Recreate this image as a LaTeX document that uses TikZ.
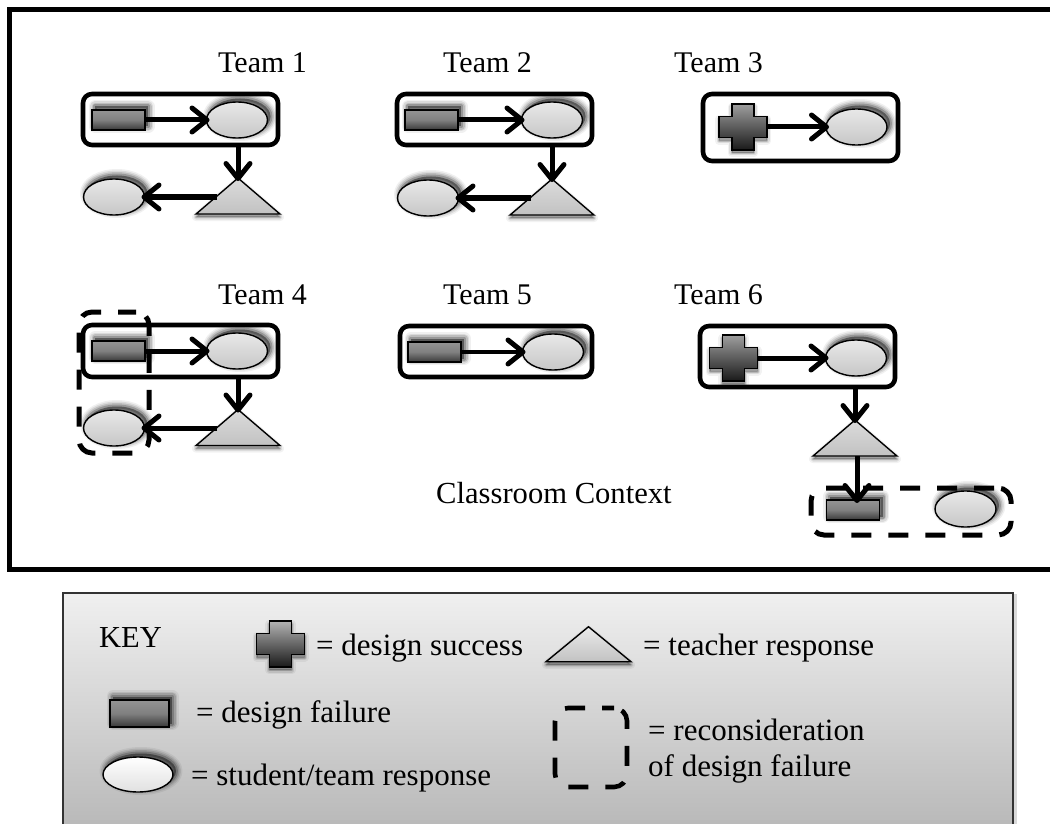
\documentclass[tikz,border=0pt]{standalone}
\usepackage{fontspec}
\setmainfont{Liberation Serif}
\usetikzlibrary{arrows.meta,shapes.geometric,shadings}
\makeatletter
\pgfdeclareshape{plusshape}{
  \inheritsavedanchors[from=rectangle]
  \inheritanchorborder[from=rectangle]
  \inheritanchor[from=rectangle]{center}
  \inheritanchor[from=rectangle]{north}
  \inheritanchor[from=rectangle]{south}
  \inheritanchor[from=rectangle]{east}
  \inheritanchor[from=rectangle]{west}
  \backgroundpath{
    \southwest \pgf@xa=\pgf@x \pgf@ya=\pgf@y
    \northeast \pgf@xb=\pgf@x \pgf@yb=\pgf@y
    \pgf@xc=\dimexpr\pgf@xa+0.27\pgf@xb-0.27\pgf@xa\relax
    \pgf@yc=\dimexpr\pgf@ya+0.27\pgf@yb-0.27\pgf@ya\relax
    \edef\px@a{\the\pgf@xa}\edef\py@a{\the\pgf@ya}
    \edef\px@b{\the\pgf@xb}\edef\py@b{\the\pgf@yb}
    \edef\px@c{\the\pgf@xc}\edef\py@c{\the\pgf@yc}
    \edef\px@d{\the\dimexpr\pgf@xb-0.27\pgf@xb+0.27\pgf@xa\relax}
    \edef\py@d{\the\dimexpr\pgf@yb-0.27\pgf@yb+0.27\pgf@ya\relax}
    \pgfpathmoveto{\pgfqpoint{\px@c}{\py@a}}
    \pgfpathlineto{\pgfqpoint{\px@d}{\py@a}}
    \pgfpathlineto{\pgfqpoint{\px@d}{\py@c}}
    \pgfpathlineto{\pgfqpoint{\px@b}{\py@c}}
    \pgfpathlineto{\pgfqpoint{\px@b}{\py@d}}
    \pgfpathlineto{\pgfqpoint{\px@d}{\py@d}}
    \pgfpathlineto{\pgfqpoint{\px@d}{\py@b}}
    \pgfpathlineto{\pgfqpoint{\px@c}{\py@b}}
    \pgfpathlineto{\pgfqpoint{\px@c}{\py@d}}
    \pgfpathlineto{\pgfqpoint{\px@a}{\py@d}}
    \pgfpathlineto{\pgfqpoint{\px@a}{\py@c}}
    \pgfpathlineto{\pgfqpoint{\px@c}{\py@c}}
    \pgfpathclose
  }
}
\makeatother
\tikzset{
  softup/.style={
    preaction={draw=black,fill=black,line width=13pt,opacity=.06,line join=round,transform canvas={shift={(3,-3.5)}}},
    preaction={draw=black,fill=black,line width=10pt,opacity=.09,line join=round,transform canvas={shift={(3,-3.5)}}},
    preaction={draw=black,fill=black,line width=7pt,opacity=.13,line join=round,transform canvas={shift={(3,-3.5)}}},
    preaction={draw=black,fill=black,line width=4pt,opacity=.2,line join=round,transform canvas={shift={(3,-3.5)}}}},
  softdown/.style={
    preaction={draw=black,fill=black,line width=8pt,opacity=.05,line join=round,transform canvas={shift={(0,3)}}},
    preaction={draw=black,fill=black,line width=5pt,opacity=.09,line join=round,transform canvas={shift={(0,3)}}},
    preaction={draw=black,fill=black,line width=2pt,opacity=.16,line join=round,transform canvas={shift={(0,3)}}}},
  shapebase/.style={inner sep=0pt,outer sep=0pt,draw=black,line width=1.4pt},
  failrect/.style={shapebase,rectangle,minimum width=53pt,minimum height=20pt,softup,top color=black!42,bottom color=black!78,middle color=black!50},
  respell/.style={shapebase,ellipse,minimum width=61pt,minimum height=36pt,softup,top color=black!9,bottom color=black!22},
  teachtri/.style={shapebase,isosceles triangle,shape border rotate=90,isosceles triangle apex angle=99,isosceles triangle stretches,minimum width=84pt,minimum height=36pt,softdown,top color=black!14,bottom color=black!24},
  winplus/.style={shapebase,plusshape,minimum width=48pt,minimum height=46pt,softdown,top color=black!38,bottom color=black!90},
  teambox/.style={inner sep=0pt,outer sep=0pt,draw=black,line width=4.6pt,rounded corners=9pt,rectangle},
  rethink/.style={inner sep=0pt,outer sep=0pt,draw=black,line width=#1,rounded corners=13pt,rectangle},
  flow/.style={line width=5pt,shorten >=-3pt,-{Straight Barb[length=15pt,width=24pt,line width=5pt,round]}},
  label/.style={inner sep=0pt,anchor=base west,font=\fontsize{31}{34}\selectfont,align=left},
  teamlabel/.style={inner sep=0pt,anchor=base west,font=\fontsize{30}{32}\selectfont},
}
\begin{document}
\begin{tikzpicture}[x=1pt,y=-1pt]
\useasboundingbox (0,0) rectangle (1050,824);
\clip (0,0) rectangle (1050,824);
\fill[white] (0,0) rectangle (1050,824);
% classroom frame
\draw[line width=5pt,miter limit=10] (1060,9.5) -- (9.5,9.5) -- (9.5,569.5) -- (1060,569.5);
% labels
\node[teamlabel] (lt1) at (218,73) {Team 1};
\node[teamlabel] (lt2) at (443,73) {Team 2};
\node[teamlabel] (lt3) at (674,73) {Team 3};
\node[teamlabel] (lt4) at (218,304) {Team 4};
\node[teamlabel] (lt5) at (443,304) {Team 5};
\node[teamlabel] (lt6) at (674,304) {Team 6};
\node[teamlabel,font=\fontsize{30.6}{32}\selectfont] (lcc) at (436,503) {Classroom Context};
% team 1
\node[teambox,minimum width=195pt,minimum height=51pt] (b1) at (180.5,119.5) {};
\node[failrect] (r1) at (118.5,120) {};
\node[respell] (e1) at (237,120) {};
\node[teachtri] (t1) at (238,198.5) {};
\node[respell] (f1) at (114,197) {};
\draw[flow] (r1) -- (e1);
\draw[flow] (b1.south -| t1.apex) -- (t1.apex);
\draw[flow,shorten <=-3pt] (t1.180 |- f1.east) -- (f1.east);
% team 2
\node[teambox,minimum width=195pt,minimum height=51pt] (b2) at (494.5,119.5) {};
\node[failrect] (r2) at (431.5,120) {};
\node[respell] (e2) at (552,120) {};
\node[teachtri] (t2) at (552,199.5) {};
\node[respell] (f2) at (428,198) {};
\draw[flow] (r2) -- (e2);
\draw[flow] (b2.south -| t2.apex) -- (t2.apex);
\draw[flow,shorten <=-3pt] (t2.180 |- f2.east) -- (f2.east);
% team 3
\node[teambox,minimum width=195pt,minimum height=67pt] (b3) at (800.5,127.5) {};
\node[winplus] (c3) at (743,127) {};
\node[respell] (e3) at (856.5,127) {};
\draw[flow] (c3) -- (e3);
% team 4
\node[teambox,minimum width=195pt,minimum height=52pt] (b4) at (180.5,351) {};
\node[failrect] (r4) at (118.5,351) {};
\node[respell] (e4) at (237,351) {};
\node[teachtri] (t4) at (238,430) {};
\node[respell] (f4) at (114,428) {};
\draw[flow] (r4) -- (e4);
\draw[flow] (b4.south -| t4.apex) -- (t4.apex);
\draw[flow,shorten <=-3pt] (t4.180 |- f4.east) -- (f4.east);
\node[rethink=5pt,dash pattern=on 20pt off 17pt,dash phase=2pt,minimum width=70pt,minimum height=141pt] (d4) at (114,382.5) {};
% team 5
\node[teambox,minimum width=192pt,minimum height=51pt] (b5) at (496,351.5) {};
\node[failrect] (r5) at (434.5,352) {};
\node[respell] (e5) at (553,352) {};
\draw[flow,line width=3.6pt] (r5) -- (e5);
% team 6
\node[teambox,minimum width=195pt,minimum height=61pt] (b6) at (797.5,356.5) {};
\node[winplus] (c6) at (733.5,358) {};
\node[respell] (e6) at (856,358) {};
\node[teachtri] (t6) at (855,440.5) {};
\node[failrect] (r6) at (853,510) {};
\node[respell] (f6) at (965.5,509) {};
\draw[flow] (c6) -- (e6);
\draw[flow] (b6.south -| t6.apex) -- (t6.apex);
\draw[flow] (t6.south) ++(2,0) coordinate (t6s) (t6s) -- (t6s |- r6.north);
\node[rethink=5pt,dash pattern=on 20pt off 17pt,dash phase=33pt,minimum width=200pt,minimum height=47pt] (d6) at (911,511.5) {};
% key
\node[inner sep=0pt,outer sep=0pt,draw=black!80,line width=1.6pt,rectangle,minimum width=950pt,minimum height=260pt,anchor=north west,top color=black!6,bottom color=black!30,
  preaction={draw=black,line width=3pt,opacity=.15,transform canvas={shift={(2,2)}}}] (key) at (63,593) {};
\node[label,font=\fontsize{30.5}{34}\selectfont] (lkey) at (99,647) {KEY};
\node[winplus,top color=black!30] (kc) at (280.5,644) {};
\node[label] at (316,655) (lkc) {= design success};
\node[teachtri,minimum width=85pt,minimum height=35pt,top color=black!8] (kt) at (588.5,646.5) {};
\node[label] at (643,655) (lkt) {= teacher response};
\node[failrect,minimum width=59pt,minimum height=27pt] (kr) at (139.5,713.5) {};
\node[label] at (196,722) (lkr) {= design failure};
\node[respell,minimum width=70pt,minimum height=35pt,top color=white,bottom color=black!12] (ke) at (138,774.5) {};
\node[label] at (191,785) (lke) {= student/team response};
\node[rethink=4.6pt,dash pattern=on 20pt off 17pt,dash phase=8pt,minimum width=72pt,minimum height=79pt] (kd) at (591,747.5) {};
\node[label] at (648,740) (lkd) {= reconsideration};
\node[label] at (648,776) (lkd2) {of design failure};
\end{tikzpicture}
\end{document}
